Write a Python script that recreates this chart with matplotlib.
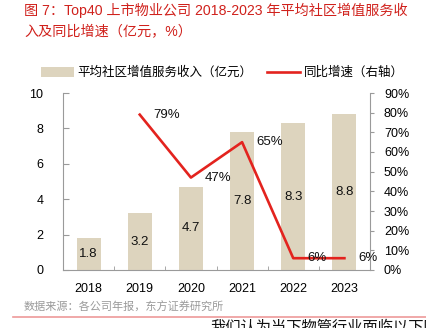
import matplotlib
matplotlib.use("Agg")
import matplotlib.pyplot as plt
from matplotlib.lines import Line2D
from matplotlib.patches import Patch

plt.rcParams['font.family'] = ['Liberation Sans', 'Noto Sans CJK SC', 'DejaVu Sans']

years = ['2018', '2019', '2020', '2021', '2022', '2023']
revenue = [1.8, 3.2, 4.7, 7.8, 8.3, 8.8]          # 亿元
growth_years = ['2019', '2020', '2021', '2022', '2023']
growth = [79, 47, 65, 6, 6]                      # %
left_ticks = [0, 2, 4, 6, 8, 10]
right_ticks = [0, 10, 20, 30, 40, 50, 60, 70, 80, 90]

title_text = "图 7：Top40 上市物业公司 2018-2023 年平均社区增值服务收\n入及同比增速（亿元，%）"
legend_bar = "平均社区增值服务收入（亿元）"
legend_line = "同比增速（右轴）"
source_text = "数据来源：各公司年报，东方证券研究所"
body_text = "我们认为当下物管行业面临以下困"

BAR = '#ddd4be'
RED = '#e3231e'
AXC = '#9a9a9a'

W, H = 427, 328
fig = plt.figure(figsize=(W / 100, H / 100), dpi=100)

ax = fig.add_axes([63 / W, 1 - 270 / H, (370 - 63) / W, (270 - 93) / H])
x = list(range(len(years)))
ax.bar(x, revenue, width=0.47, color=BAR, zorder=2)
for xi, v in zip(x, revenue):
    ax.text(xi, v / 2, f"{v:.1f}", ha='center', va='center', fontsize=9.5, color='#111111', zorder=4)

ax.set_xlim(-0.5, len(years) - 0.5)
ax.set_ylim(0, 10)
ax.set_yticks(left_ticks)
ax.set_xticks(x)
ax.set_xticklabels(years)
ax.set_xticks([i + 0.5 for i in range(len(years) - 1)], minor=True)
ax.tick_params(axis='x', which='major', length=0, labelsize=9, pad=9)
ax.tick_params(axis='x', which='minor', length=3, direction='in', color=AXC)
ax.tick_params(axis='y', length=4, direction='in', color=AXC, labelsize=9, pad=14)
for s in ['top', 'right']:
    ax.spines[s].set_visible(False)
for s in ['left', 'bottom']:
    ax.spines[s].set_color(AXC)

ax2 = ax.twinx()
gx = [years.index(y) for y in growth_years]
ax2.plot(gx, growth, color=RED, lw=1.9, zorder=3)
for xi, g in zip(gx, growth):
    ax2.annotate(f"{g}%", (xi, g), xytext=(10, 0), textcoords='offset points',
                 ha='left', va='center', fontsize=9.5, color='#111111')
ax2.set_ylim(0, 90)
ax2.set_yticks(right_ticks)
ax2.set_yticklabels([f"{t}%" for t in right_ticks])
ax2.tick_params(axis='y', length=3, direction='out', color=AXC, labelsize=9, pad=7)
for s in ['top', 'left', 'bottom']:
    ax2.spines[s].set_visible(False)
ax2.spines['right'].set_color(AXC)

handles = [Patch(facecolor=BAR, edgecolor='none'), Line2D([], [], color=RED, lw=1.9)]
fig.legend(handles, [legend_bar, legend_line], loc='center left',
           bbox_to_anchor=(36 / W, 1 - 73 / H), ncol=2, frameon=False, fontsize=9,
           handlelength=2.6, handleheight=0.9, handletextpad=0.3, columnspacing=1.2,
           borderaxespad=0)

fig.text(24 / W, 1 - 3 / H, title_text, ha='left', va='top', fontsize=10.2,
         fontweight='normal', color='#d0211c', linespacing=1.65)

fig.text(24 / W, 1 - 307 / H, source_text, ha='left', va='center', fontsize=8, color='#9a9a9a')
fig.add_artist(Line2D([13 / W, 1], [1 - 317 / H, 1 - 317 / H], color='#ee9999', lw=1.2))
fig.text(210 / W, 1 - 320 / H, body_text, ha='left', va='top', fontsize=11, color='#111111')

fig.savefig('out.png', dpi=100)
